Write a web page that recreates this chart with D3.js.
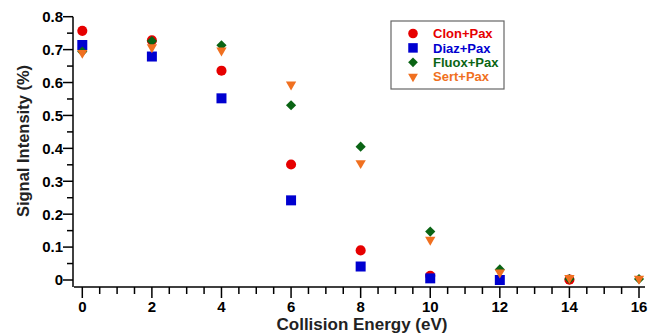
<!DOCTYPE html>
<html><head><meta charset="utf-8">
<script src="https://cdn.jsdelivr.net/npm/d3@7"></script>
<style>body{margin:0;background:#fff}svg{display:block}text{font-family:"Liberation Sans",Arial,sans-serif;font-weight:bold}</style>
</head><body><svg id="c" width="648" height="333"></svg>
<script>
const energies = [0, 2, 4, 6, 8, 10, 12, 14, 16];
const clonPax  = [0.757, 0.728, 0.636, 0.351, 0.090, 0.013, null, 0.001, null];
const diazPax  = [0.714, 0.679, 0.552, 0.242, 0.041, 0.005, 0.000, null, null];
const fluoxPax = [0.694, 0.726, 0.713, 0.531, 0.405, 0.147, 0.032, 0.003, 0.003];
const sertPax  = [0.690, 0.707, 0.697, 0.594, 0.355, 0.122, 0.023, 0.006, 0.004];
const seriesNames = ["Clon+Pax", "Diaz+Pax", "Fluox+Pax", "Sert+Pax"];
const xTickLabels = [0, 2, 4, 6, 8, 10, 12, 14, 16];
const yTickLabels = [0, 0.1, 0.2, 0.3, 0.4, 0.5, 0.6, 0.7, 0.8];

const colors = ["#e60000", "#0000d0", "#0a6414", "#f07020"];
const allSeries = [clonPax, diazPax, fluoxPax, sertPax];

function markerPath(i, s) {
  // s = scale factor
  if (i === 0) return d3.symbol().type(d3.symbolCircle).size(80 * s * s)();
  if (i === 1) return d3.symbol().type(d3.symbolSquare).size(100 * s * s)();
  if (i === 2) return d3.symbol().type(d3.symbolSquare).size(52 * s * s)();
  return d3.symbol().type(d3.symbolTriangle).size(46 * s * s)();
}
const markerRot = [0, 0, 45, 180];

const svg = d3.select("#c");
const x = d3.scaleLinear().domain([0, 16]).range([82.3, 639]);
const y = d3.scaleLinear().domain([0, 0.8]).range([280, 16.7]);

// Y axis
const yAxisX = 73;
svg.append("line").attr("x1", yAxisX).attr("x2", yAxisX).attr("y1", y(0.8)).attr("y2", 287)
  .attr("stroke", "#000").attr("stroke-width", 1.5);
const yMinor = d3.range(0, 0.801, 0.05);
svg.selectAll(".ymin").data(yMinor).enter().append("line")
  .attr("x1", (d, i) => i % 2 === 0 ? yAxisX - 10 : yAxisX - 6).attr("x2", yAxisX)
  .attr("y1", d => y(d)).attr("y2", d => y(d)).attr("stroke", "#000").attr("stroke-width", 1.5);
svg.selectAll(".ylab").data(yTickLabels).enter().append("text")
  .attr("x", yAxisX - 10).attr("y", d => y(d)).attr("dy", "0.36em")
  .attr("text-anchor", "end").attr("font-size", 15).text(d => d === 0 ? "0" : d3.format(".1f")(d));

// X axis
const xAxisY = 287;
svg.append("line").attr("x1", yAxisX + 1).attr("x2", 645).attr("y1", xAxisY).attr("y2", xAxisY)
  .attr("stroke", "#000").attr("stroke-width", 1.5);
const xMinor = d3.range(0, 16.01, 0.5);
svg.selectAll(".xmin").data(xMinor).enter().append("line")
  .attr("x1", d => x(d)).attr("x2", d => x(d)).attr("y1", xAxisY)
  .attr("y2", (d) => (d % 2 === 0) ? xAxisY + 11 : xAxisY + 7).attr("stroke", "#000").attr("stroke-width", 1.5);
svg.selectAll(".xlab").data(xTickLabels).enter().append("text")
  .attr("x", d => x(d)).attr("y", 312).attr("text-anchor", "middle").attr("font-size", 15).text(d => d);

// Axis titles
svg.append("text").attr("x", 362).attr("y", 330).attr("text-anchor", "middle").attr("font-size", 17)
  .attr("fill", "#222").text("Collision Energy (eV)");
svg.append("text").attr("transform", "translate(29,141) rotate(-90)").attr("text-anchor", "middle")
  .attr("font-size", 16.5).attr("fill", "#222").text("Signal Intensity (%)");

// Points
allSeries.forEach((vals, si) => {
  svg.append("g").selectAll("path")
    .data(energies.map((e, i) => ({ e, v: vals[i] })).filter(d => d.v !== null))
    .enter().append("path")
    .attr("d", markerPath(si, 1))
    .attr("transform", d => `translate(${x(d.e)},${y(d.v)}) rotate(${markerRot[si]})`)
    .attr("fill", colors[si]);
});

// Legend
const lg = svg.append("g");
lg.append("rect").attr("x", 391).attr("y", 21).attr("width", 113).attr("height", 68)
  .attr("fill", "#fff").attr("stroke", "#666").attr("stroke-width", 1.2);
seriesNames.forEach((n, i) => {
  const yy = 33.5 + i * 14.4;
  lg.append("path").attr("d", markerPath(i, 0.95))
    .attr("transform", `translate(413,${yy}) rotate(${markerRot[i]})`)
    .attr("fill", colors[i]);
  lg.append("text").attr("x", 433).attr("y", yy).attr("dy", "0.36em").attr("font-size", 13)
    .attr("fill", colors[i]).text(n);
});
</script></body></html>
